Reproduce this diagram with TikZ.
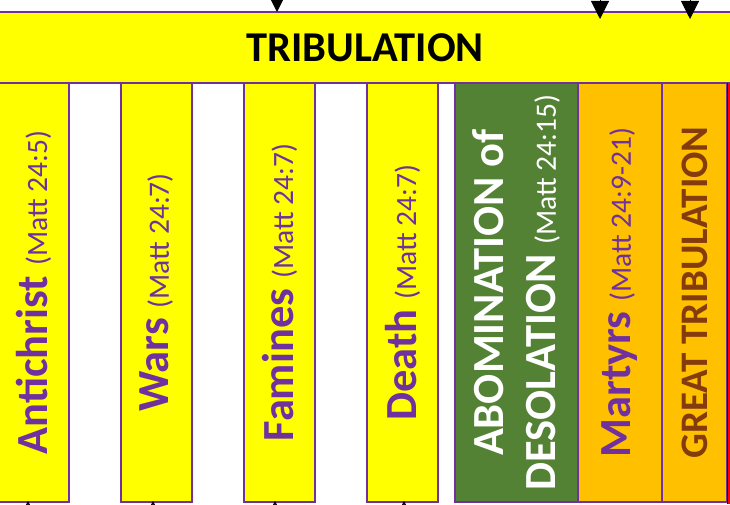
\documentclass[tikz,border=0pt]{standalone}
\usepackage{fontspec}
\setmainfont{Carlito}
\usetikzlibrary{arrows.meta}
\definecolor{tribyellow}{HTML}{FFFF00}
\definecolor{tribpurple}{HTML}{7030A0}
\definecolor{tribgreen}{HTML}{548235}
\definecolor{triborange}{HTML}{FFC000}
\definecolor{tribbrown}{HTML}{843C0C}
\newcommand{\bigword}[1]{{\fontsize{44.5}{52}\selectfont\bfseries #1}}
\newcommand{\mattref}[1]{\hspace{10pt}{\fontsize{29.5}{34}\selectfont #1}}
\begin{document}
\begin{tikzpicture}[x=1pt, y=1pt,
    column/.style={draw=tribpurple, line width=1.4pt, rotate=90, inner sep=0pt,
        minimum width=419pt, minimum height=#1, text=tribpurple, align=center,
        font=\fontsize{43}{52}\selectfont},
    pointer/.style={line width=1pt, -{Triangle[width=18pt, length=18pt]}},
    tick/.style={line width=0.6pt, -{Triangle[width=4pt, length=4pt]}}]
    \useasboundingbox (0, 0) rectangle (730, 504);
    % band across the top
    \node[draw=tribpurple, line width=1.4pt, fill=tribyellow, minimum width=740pt,
        minimum height=71pt, inner sep=0pt] (bar) at (365, 456.5)
        {\fontsize{42.5}{48}\selectfont\bfseries TRIBULATION};
    % the signs
    \node[column=71pt, fill=tribyellow] (antichrist) at (33.5, 211.5) {\bigword{Antichrist}\mattref{(Matt 24:5)}};
    \node[column=71pt, fill=tribyellow] (wars) at (156.5, 211.5) {\bigword{Wars}\mattref{(Matt 24:7)}};
    \node[column=71pt, fill=tribyellow] (famines) at (279.5, 211.5) {\bigword{Famines}\mattref{(Matt 24:7)}};
    \node[column=71pt, fill=tribyellow] (death) at (402.5, 211.5) {\bigword{Death}\mattref{(Matt 24:7)}};
    \node[column=123pt, fill=tribgreen, text=white] (abomination) at (516.5, 211.5)
        {\bigword{ABOMINATION of}\\\bigword{DESOLATION}\mattref{(Matt 24:15)}};
    \node[column=84pt, fill=triborange] (martyrs) at (620, 211.5) {\bigword{Martyrs}\mattref{(Matt 24:9-21)}};
    \node[column=65pt, fill=triborange, text=tribbrown] (great) at (694.5, 211.5)
        {\fontsize{39}{44}\selectfont\bfseries GREAT TRIBULATION};
    % edge of the next panel
    \fill[red] (728, 0) rectangle (740, 421);
    \draw[line width=1.5pt] (727.5, 0) -- (727.5, 421);
    % arrows coming in from above and below
    \coordinate (p1) at (277, 560);
    \coordinate (p2) at (600, 560);
    \coordinate (p3) at (690, 560);
    \coordinate (t1) at (277, 492);
    \coordinate (t2) at (600, 485);
    \coordinate (t3) at (690, 485);
    \draw[pointer] (p1) -- (t1);
    \draw[pointer] (p2) -- (t2);
    \draw[pointer] (p3) -- (t3);
    \foreach \x in {28, 153, 275, 404} {
        \coordinate (b\x) at (\x, -20);
        \coordinate (e\x) at (\x, 3);
        \draw[tick] (b\x) -- (e\x);
    }
\end{tikzpicture}
\end{document}
